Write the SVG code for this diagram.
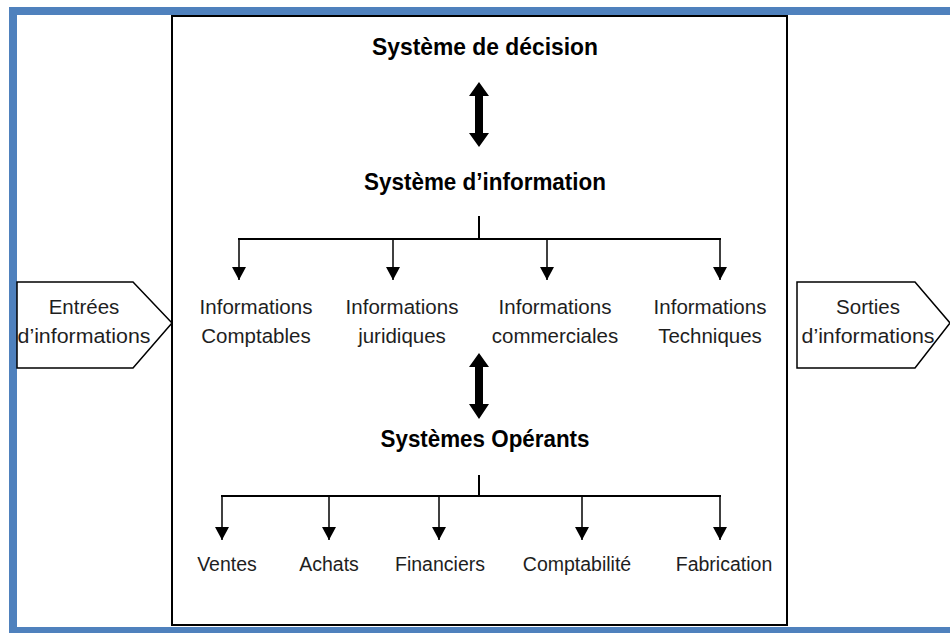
<svg xmlns="http://www.w3.org/2000/svg" width="950" height="633" viewBox="0 0 950 633">
<style>
.t{font-family:"Liberation Sans",Arial,sans-serif;fill:#1e1e1e;font-size:20.5px;text-anchor:middle}
.b{font-family:"Liberation Sans",Arial,sans-serif;fill:#000;font-weight:bold;font-size:23px;text-anchor:middle}
.s{font-size:19.5px}
.ln{fill:none;stroke:#000;stroke-width:2}
.lt{fill:none;stroke:#000;stroke-width:1.5}
.shape{fill:#fff;stroke:#000;stroke-width:1.5}
</style>
<defs>
<marker id="ah" markerUnits="userSpaceOnUse" markerWidth="14" markerHeight="14" viewBox="0 0 14 14" refX="13" refY="7" orient="auto">
<path d="M0,0 L13,7 L0,14 Z" fill="#000"/>
</marker>
</defs>
<rect x="0" y="0" width="950" height="633" fill="#fff"/>
<rect x="13" y="11" width="980" height="620" fill="none" stroke="#4f81bd" stroke-width="8"/>
<rect id="main" x="172" y="16" width="615" height="609" fill="#fff" stroke="#000" stroke-width="2"/>

<g id="entrees">
<polygon class="shape" points="17,282 133,282 172,323 133,368 17,368"/>
<text class="t" x="84" y="314">Entrées</text>
<text class="t" x="84" y="343" textLength="133" lengthAdjust="spacingAndGlyphs">d’informations</text>
</g>
<g id="sorties">
<polygon class="shape" points="797,282 915,282 950,323 915,368 797,368"/>
<text class="t" x="868" y="314">Sorties</text>
<text class="t" x="868" y="343" textLength="133" lengthAdjust="spacingAndGlyphs">d’informations</text>
</g>

<g id="decision"><text class="b" x="485" y="55" textLength="226" lengthAdjust="spacingAndGlyphs">Système de décision</text></g>
<g id="information"><text class="b" x="485" y="190" textLength="242" lengthAdjust="spacingAndGlyphs">Système d’information</text></g>
<g id="operants"><text class="b" x="485" y="447" textLength="209" lengthAdjust="spacingAndGlyphs">Systèmes Opérants</text></g>

<g id="info-comptables"><text class="t" x="256" y="314">Informations</text><text class="t" x="256" y="343">Comptables</text></g>
<g id="info-juridiques"><text class="t" x="402" y="314">Informations</text><text class="t" x="402" y="343">juridiques</text></g>
<g id="info-commerciales"><text class="t" x="555" y="314">Informations</text><text class="t" x="555" y="343">commerciales</text></g>
<g id="info-techniques"><text class="t" x="710" y="314">Informations</text><text class="t" x="710" y="343">Techniques</text></g>

<g id="ventes"><text class="t s" x="227" y="571">Ventes</text></g>
<g id="achats"><text class="t s" x="329" y="571">Achats</text></g>
<g id="financiers"><text class="t s" x="440" y="571">Financiers</text></g>
<g id="comptabilite"><text class="t s" x="577" y="571">Comptabilité</text></g>
<g id="fabrication"><text class="t s" x="724" y="571">Fabrication</text></g>

<g id="connectors">
<polygon fill="#000" points="479,82 489,96 483,96 483,133 489,133 479,147 469,133 475,133 475,96 469,96"/>
<polygon fill="#000" points="479,353 489,367 483,367 483,404 489,404 479,419 469,404 475,404 475,367 469,367"/>
<path class="ln" d="M479,216 V239 M238,239 H721"/>
<path class="lt" d="M239,239 V280" marker-end="url(#ah)"/>
<path class="lt" d="M393,239 V280" marker-end="url(#ah)"/>
<path class="lt" d="M547,239 V280" marker-end="url(#ah)"/>
<path class="lt" d="M720,239 V280" marker-end="url(#ah)"/>
<path class="ln" d="M479,475 V496 M221,496 H721"/>
<path class="lt" d="M222,496 V540" marker-end="url(#ah)"/>
<path class="lt" d="M329,496 V540" marker-end="url(#ah)"/>
<path class="lt" d="M439,496 V540" marker-end="url(#ah)"/>
<path class="lt" d="M582,496 V540" marker-end="url(#ah)"/>
<path class="lt" d="M720,496 V540" marker-end="url(#ah)"/>
</g>
</svg>
